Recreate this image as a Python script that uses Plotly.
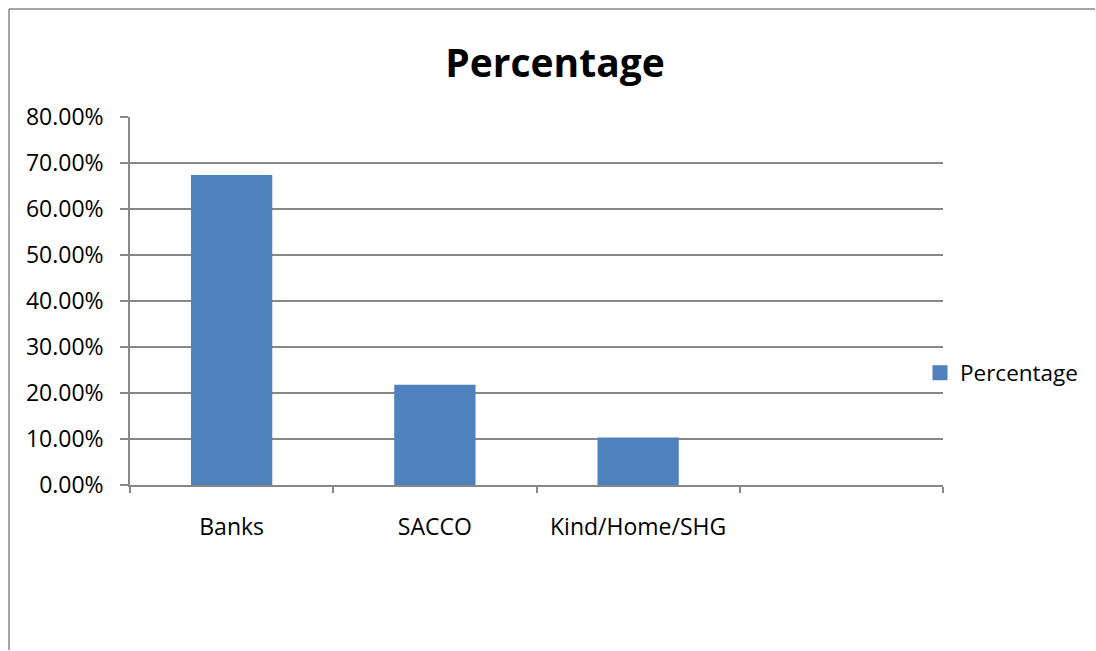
import plotly.graph_objects as go

categories = ["Banks", "SACCO", "Kind/Home/SHG", " "]
values = [67.4, 21.8, 10.3, None]
series_name = "Percentage"
y_ticks = [0, 10, 20, 30, 40, 50, 60, 70, 80]
y_tick_labels = ["0.00%", "10.00%", "20.00%", "30.00%", "40.00%", "50.00%", "60.00%", "70.00%", "80.00%"]

FONT = "'Open Sans', sans-serif"
GRID = "#878787"
BAR = "#4F81BD"

fig = go.Figure()
fig.add_trace(go.Bar(
    x=categories, y=values, name=series_name,
    marker=dict(color=BAR, line=dict(width=0)),
    showlegend=False,
))
# legend entry with a larger square swatch
fig.add_trace(go.Scatter(
    x=[None], y=[None], mode="markers", name=series_name,
    marker=dict(symbol="square", size=15, color=BAR), showlegend=True,
))

W, H = 1096, 651
L, T = 130, 117
R = W - 943
B = H - 485
pw, ph = W - L - R, H - T - B

fig.update_layout(
    width=W, height=H,
    margin=dict(l=L, r=R, t=T, b=B),
    paper_bgcolor="white", plot_bgcolor="white",
    bargap=0.6,
    font=dict(family=FONT, size=23, color="black"),
    title=dict(text="<b>Percentage</b>", x=555 / W, xanchor="center",
               y=1 - 63 / H, yanchor="middle", font=dict(size=39, family=FONT)),
    legend=dict(x=(920 - L) / pw, xanchor="left", y=(485 - 373) / ph, yanchor="middle",
                font=dict(size=22.5), bgcolor="rgba(0,0,0,0)", itemwidth=30),
    xaxis=dict(type="category", categoryorder="array", categoryarray=categories,
               showline=True, linecolor=GRID, linewidth=1.5,
               ticks="outside", tickson="boundaries", ticklen=6, tickcolor=GRID, tickwidth=1.5,
               showgrid=False, ticklabelstandoff=21, range=[-0.5, 3.5]),
    yaxis=dict(range=[0, 80], tickvals=y_ticks, ticktext=y_tick_labels,
               showline=True, linecolor=GRID, linewidth=1.5,
               showgrid=True, gridcolor=GRID, gridwidth=1.5,
               ticks="outside", ticklen=8, tickcolor=GRID, tickwidth=1.5,
               ticklabelstandoff=12, zeroline=False),
)

# chart-area border (only the top and left edges are inside the picture)
bx0 = (9 - L) / pw
by1 = (H - B - 9) / ph
fig.add_shape(type="line", xref="paper", yref="paper", x0=bx0, x1=bx0, y0=by1, y1=-(B - 1) / ph,
              line=dict(color=GRID, width=1.5))
fig.add_shape(type="line", xref="paper", yref="paper", x0=bx0, x1=(W - 1 - L) / pw, y0=by1, y1=by1,
              line=dict(color=GRID, width=1.5))

fig.write_html("out.html", config={"displayModeBar": False})
